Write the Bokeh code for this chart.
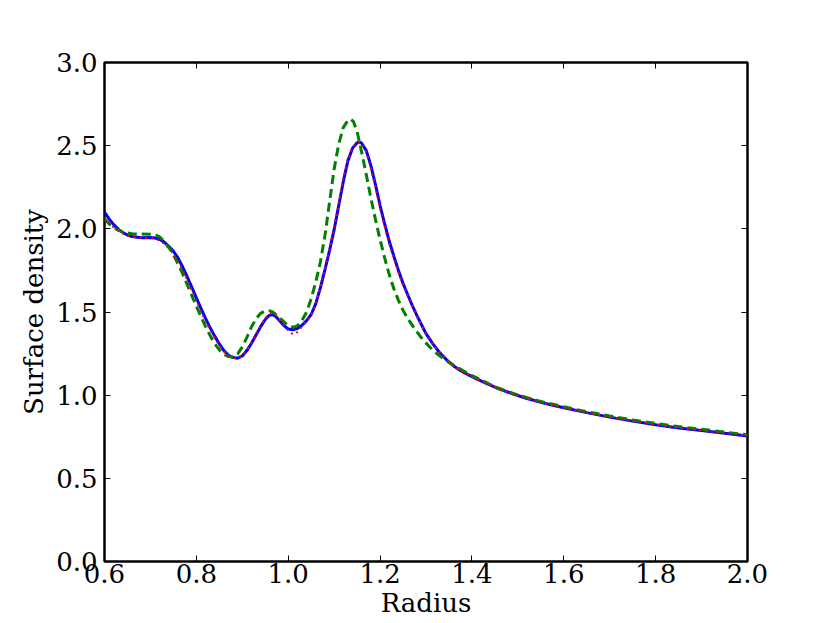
from bokeh.plotting import figure
from bokeh.models import LinearAxis, FixedTicker, PrintfTickFormatter, Range1d
from bokeh.embed import file_html
from bokeh.resources import INLINE

# ---- data ----
r_blue = [0.600, 0.610, 0.620, 0.630, 0.640, 0.650, 0.660, 0.680, 0.700, 0.710,
          0.720, 0.730, 0.740, 0.750, 0.760, 0.770, 0.780, 0.790, 0.800, 0.810,
          0.820, 0.830, 0.840, 0.850, 0.860, 0.870, 0.880, 0.890, 0.900, 0.910,
          0.920, 0.930, 0.940, 0.950, 0.958, 0.965, 0.972, 0.980, 0.990, 1.000,
          1.010, 1.020, 1.030, 1.040, 1.050, 1.060, 1.070, 1.080, 1.090, 1.100,
          1.110, 1.120, 1.130, 1.140, 1.150, 1.155, 1.160, 1.170, 1.180, 1.190,
          1.200, 1.210, 1.220, 1.230, 1.240, 1.250, 1.260, 1.270, 1.280, 1.290,
          1.300, 1.315, 1.330, 1.345, 1.360, 1.380, 1.400, 1.430, 1.460, 1.490,
          1.520, 1.560, 1.600, 1.650, 1.700, 1.750, 1.800, 1.850, 1.900, 1.950,
          2.000]
s_blue = [2.100, 2.060, 2.025, 1.998, 1.977, 1.963, 1.954, 1.947, 1.948, 1.945,
          1.937, 1.920, 1.895, 1.865, 1.825, 1.772, 1.712, 1.650, 1.585, 1.522,
          1.462, 1.405, 1.355, 1.308, 1.268, 1.240, 1.226, 1.222, 1.236, 1.268,
          1.312, 1.362, 1.412, 1.455, 1.478, 1.484, 1.475, 1.452, 1.420, 1.398,
          1.393, 1.400, 1.420, 1.448, 1.485, 1.550, 1.645, 1.755, 1.870, 1.995,
          2.140, 2.285, 2.410, 2.485, 2.518, 2.522, 2.515, 2.470, 2.380, 2.265,
          2.140, 2.030, 1.925, 1.835, 1.750, 1.672, 1.605, 1.540, 1.480, 1.425,
          1.370, 1.308, 1.255, 1.212, 1.176, 1.140, 1.112, 1.072, 1.037, 1.007,
          0.980, 0.950, 0.924, 0.895, 0.868, 0.844, 0.822, 0.803, 0.787, 0.771,
          0.755]

r_green = [0.600, 0.610, 0.620, 0.630, 0.640, 0.660, 0.680, 0.700, 0.710, 0.720,
           0.730, 0.740, 0.750, 0.760, 0.770, 0.780, 0.790, 0.800, 0.810, 0.820,
           0.830, 0.840, 0.850, 0.860, 0.870, 0.880, 0.890, 0.900, 0.910, 0.920,
           0.930, 0.940, 0.950, 0.958, 0.966, 0.975, 0.985, 0.995, 1.005, 1.012,
           1.020, 1.030, 1.040, 1.050, 1.060, 1.070, 1.080, 1.090, 1.100, 1.110,
           1.120, 1.130, 1.136, 1.142, 1.150, 1.160, 1.170, 1.180, 1.190, 1.200,
           1.210, 1.220, 1.230, 1.240, 1.250, 1.260, 1.275, 1.290, 1.305, 1.320,
           1.335, 1.350, 1.365, 1.380, 1.400, 1.420, 1.440, 1.460, 1.490, 1.520,
           1.560, 1.600, 1.650, 1.700, 1.750, 1.800, 1.850, 1.900, 1.950, 2.000]
s_green = [2.060, 2.030, 2.008, 1.992, 1.980, 1.970, 1.969, 1.968, 1.965, 1.952,
           1.925, 1.890, 1.845, 1.790, 1.730, 1.665, 1.600, 1.535, 1.472, 1.412,
           1.358, 1.310, 1.272, 1.246, 1.232, 1.230, 1.248, 1.290, 1.348, 1.410,
           1.460, 1.492, 1.506, 1.508, 1.500, 1.480, 1.455, 1.430, 1.412, 1.408,
           1.418, 1.450, 1.500, 1.580, 1.680, 1.800, 1.960, 2.160, 2.360, 2.510,
           2.610, 2.652, 2.660, 2.645, 2.585, 2.460, 2.325, 2.185, 2.055, 1.935,
           1.825, 1.725, 1.640, 1.570, 1.510, 1.462, 1.400, 1.345, 1.298, 1.258,
           1.226, 1.197, 1.172, 1.148, 1.118, 1.092, 1.064, 1.040, 1.010, 0.985,
           0.955, 0.930, 0.900, 0.875, 0.851, 0.830, 0.811, 0.795, 0.778, 0.762]

r_red = [0.600, 0.610, 0.620, 0.630, 0.640, 0.650, 0.660, 0.680, 0.700, 0.710,
         0.720, 0.730, 0.740, 0.750, 0.760, 0.770, 0.780, 0.790, 0.800, 0.810,
         0.820, 0.830, 0.840, 0.850, 0.860, 0.870, 0.880, 0.890, 0.900, 0.910,
         0.920, 0.930, 0.940, 0.950, 0.958, 0.965, 0.972, 0.980, 0.990, 1.000,
         1.008, 1.014, 1.020, 1.030, 1.040, 1.050, 1.060, 1.070, 1.080, 1.090,
         1.100, 1.110, 1.120, 1.130, 1.140, 1.150, 1.155, 1.160, 1.170, 1.180,
         1.190, 1.200, 1.210, 1.220, 1.230, 1.240, 1.250, 1.260, 1.270, 1.280,
         1.290, 1.300, 1.315, 1.330, 1.345, 1.360, 1.380, 1.400, 1.430, 1.460,
         1.490, 1.520, 1.560, 1.600, 1.650, 1.700, 1.750, 1.800, 1.850, 1.900,
         1.950, 2.000]
s_red = [2.070, 2.035, 2.008, 1.988, 1.972, 1.960, 1.952, 1.945, 1.944, 1.940,
         1.930, 1.910, 1.882, 1.848, 1.805, 1.752, 1.692, 1.630, 1.565, 1.502,
         1.445, 1.392, 1.345, 1.300, 1.262, 1.236, 1.224, 1.222, 1.238, 1.272,
         1.318, 1.370, 1.420, 1.462, 1.486, 1.494, 1.485, 1.460, 1.422, 1.388,
         1.370, 1.366, 1.380, 1.412, 1.442, 1.482, 1.548, 1.645, 1.760, 1.880,
         2.010, 2.155, 2.300, 2.420, 2.492, 2.520, 2.521, 2.510, 2.460, 2.365,
         2.248, 2.122, 2.012, 1.910, 1.822, 1.738, 1.662, 1.598, 1.535, 1.476,
         1.422, 1.368, 1.306, 1.253, 1.211, 1.175, 1.139, 1.111, 1.071, 1.037,
         1.007, 0.980, 0.950, 0.924, 0.895, 0.868, 0.844, 0.822, 0.803, 0.787,
         0.771, 0.755]

x_ticks = [0.6, 0.8, 1.0, 1.2, 1.4, 1.6, 1.8, 2.0]
y_ticks = [0.0, 0.5, 1.0, 1.5, 2.0, 2.5, 3.0]
x_label = "Radius"
y_label = "Surface density"

FONT = "DejaVu Serif"

p = figure(frame_width=643, frame_height=499,
           x_range=Range1d(0.6, 2.0), y_range=Range1d(0.0, 3.0),
           output_backend="svg", toolbar_location=None,
           min_border_left=104, min_border_top=62, min_border_right=75, min_border_bottom=54,
           background_fill_color="white", border_fill_color="white")
p.grid.visible = False
p.outline_line_color = "black"
p.outline_line_width = 2.5

p.line(r_blue, s_blue, line_color="#0000ff", line_width=3)
p.line(r_green, s_green, line_color="#008000", line_width=3, line_dash="9 5")
p.line(r_red, s_red, line_color="#ff0000", line_width=2, line_dash="2 4")

def style(ax, ticks, show_labels=True):
    ax.ticker = FixedTicker(ticks=ticks)
    ax.formatter = PrintfTickFormatter(format="%.1f")
    ax.axis_line_color = None
    ax.major_tick_in = 6
    ax.major_tick_out = 0
    ax.major_tick_line_color = "black"
    ax.major_tick_line_width = 1
    ax.minor_tick_line_color = None
    ax.major_label_text_font = FONT
    ax.major_label_text_font_size = "26px"
    ax.major_label_text_color = "black" if show_labels else None
    ax.axis_label_text_font = FONT
    ax.axis_label_text_font_size = "26px"
    ax.axis_label_text_font_style = "normal"
    ax.axis_label_text_color = "black"

xa = p.xaxis[0]
ya = p.yaxis[0]
style(xa, x_ticks)
style(ya, y_ticks)
xa.axis_label = x_label
ya.axis_label = y_label
xa.major_label_standoff = 2
ya.major_label_standoff = 7
xa.axis_label_standoff = 2
ya.axis_label_standoff = 4

top = LinearAxis()
style(top, x_ticks, show_labels=False)
right = LinearAxis()
style(right, y_ticks, show_labels=False)
p.add_layout(top, "above")
p.add_layout(right, "right")

open("out.html", "w").write(file_html(p, INLINE))
